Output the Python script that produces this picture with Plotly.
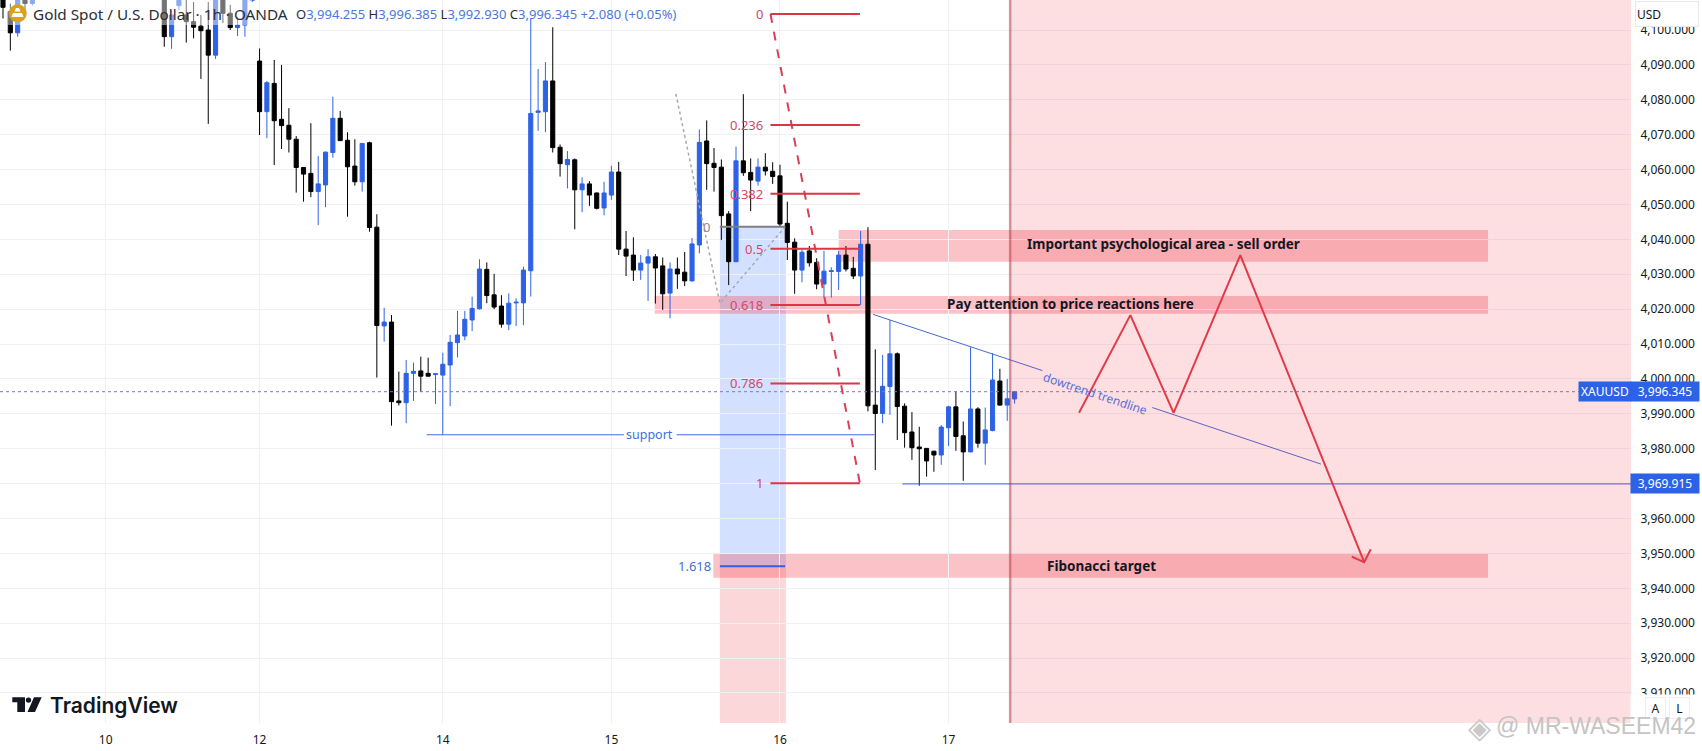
import plotly.graph_objects as go

# bar index, one bar per hour (bars 5-21 sit above the visible price range)
bar_index = [0, 1, 2, 3, 4] + list(range(22, 139))

opens = [4110, 4105.3, 4099.2, 4108.8, 4107.6,
         4108.6, 4098.1, 4107, 4104.3, 4102.4, 4101.1, 4100, 4092.8, 4109, 4104.8,
         4100.7, 4101.4, 4108.5, 4091.1, 4076.6, 4084.7, 4074.4, 4072.7, 4068.7, 4060.6,
         4058.9, 4053.7, 4055.6, 4064.9, 4074.7, 4068.4, 4061, 4056.5, 4067.7, 4043.5,
         4015.2, 4016.3, 3993.7, 3993.2, 4001.6, 4002.3, 4001.6, 4001.3, 4001.1, 4004,
         4010.4, 4012.3, 4016.9, 4020.1, 4031.4, 4024.1, 4020.9, 4015.7, 4021.8, 4021.8,
         4031, 4076.4, 4076.6, 4085.4, 4066.4, 4061.4, 4062.8, 4054.2, 4055.9, 4053.3,
         4049, 4052.7, 4059.3, 4037.2, 4035.5, 4031.2, 4033.2, 4035, 4032.4, 4024.6,
         4031.5, 4030.6, 4028.1, 4038.4, 4068.2, 4061.8, 4060.7, 4047.3, 4033.6, 4062.5,
         4059.2, 4056.7, 4060.7, 4059.5, 4058.2, 4044.6, 4039.2, 4031.2, 4036.7, 4033.4,
         4027.2, 4030.8, 4030.8, 4035.5, 4031.7, 4029.5, 4038.6, 3992.5, 3990.1, 3997.8,
         4007.2, 3992.2, 3984.8, 3980.5, 3980.1, 3979.3, 3978.2, 3986, 3992, 3983.7,
         3979.1, 3991.4, 3981.6, 3985.2, 3999.4, 3992.5, 3994.255]

closes = [4106.5, 4099.2, 4108.6, 4107.6, 4109,
          4098.1, 4104.3, 4110, 4102.4, 4100.8, 4099.8, 4092.8, 4110, 4104.8, 4100.7,
          4101.4, 4110, 4110, 4076.6, 4084.9, 4074, 4072.6, 4068.7, 4060.6, 4058.7,
          4053.7, 4055.9, 4065, 4074.7, 4068.3, 4060.8, 4056.5, 4067.5, 4043.4, 4015.3,
          4016.3, 3993.5, 3993.2, 4001.6, 4002.2, 4000.8, 4000.8, 4001.5, 4004.2, 4010.5,
          4012.6, 4017.1, 4020.2, 4031.5, 4023.9, 4020.6, 4015.7, 4021.7, 4022, 4031.2,
          4076.1, 4076.8, 4085.4, 4066.3, 4061.7, 4062.9, 4054.2, 4055.9, 4052.7, 4048.9,
          4053.3, 4059.3, 4037.2, 4035.2, 4031.2, 4033.2, 4035, 4031.8, 4024.4, 4031.5,
          4030.1, 4028.1, 4038.7, 4067.8, 4061.7, 4060.6, 4046.8, 4033.6, 4062.5, 4059.1,
          4057, 4060.7, 4059.6, 4058, 4044.4, 4039.1, 4031.2, 4036.3, 4033.3, 4027.2,
          4030.9, 4031, 4035.5, 4031.5, 4029.5, 4038.6, 3992.3, 3990.1, 3997.9, 4007.2,
          3992.1, 3984.6, 3980.3, 3980, 3976.5, 3978.2, 3986.2, 3992, 3983.5, 3979.1,
          3991.4, 3981.6, 3985.4, 3999.7, 3992.5, 3994.3, 3996.345]

highs = [4112, 4107.6, 4110, 4110, 4110,
         4110, 4105.7, 4112, 4108.6, 4108, 4104.3, 4108, 4112, 4111, 4107.2,
         4103.8, 4112, 4112, 4094.7, 4085.4, 4091.4, 4090, 4077.6, 4069.6, 4060.7,
         4073.3, 4063.9, 4065.2, 4080.9, 4076.8, 4070.7, 4068.7, 4067.6, 4068, 4047.2,
         4020.4, 4018.3, 4002.1, 4005.4, 4004.7, 4006.4, 4006.1, 4001.4, 4007.5, 4012.6,
         4019.5, 4019.5, 4023.6, 4034.3, 4033.4, 4030.1, 4024, 4024.5, 4023.1, 4032.2,
         4103.3, 4088.8, 4090.8, 4100.8, 4067.2, 4065.3, 4063.2, 4057.8, 4056.7, 4053.4,
         4056.5, 4061.1, 4062.2, 4042.4, 4040.6, 4035.5, 4037.2, 4035.8, 4034.8, 4033.4,
         4034.8, 4036.4, 4040.4, 4071.5, 4074.1, 4066.2, 4062.9, 4048.1, 4066.6, 4081.6,
         4063.2, 4063.2, 4064.7, 4062.1, 4061.4, 4050.8, 4040.3, 4037.2, 4038.1, 4034.6,
         4036.7, 4032, 4036.7, 4038.1, 4035, 4042.4, 4043.5, 4008.5, 4006.9, 4016.9,
         4007.6, 3993, 3990.5, 3986.3, 3980.2, 3979.4, 3986.8, 3992.3, 3996.4, 3987.8,
         4009.1, 3991.9, 3991.8, 4007.4, 4002.9, 4000, 3996.385]

lows = [4103.3, 4094.1, 4098.1, 4106, 4107,
        4095.2, 4094.6, 4105.7, 4096.4, 4097.6, 4086, 4073.1, 4091.7, 4102, 4100,
        4098.3, 4098.1, 4108, 4069.9, 4069, 4061.3, 4065.9, 4064.9, 4053.4, 4050.8,
        4052.1, 4044.1, 4049.2, 4063.4, 4068.2, 4046.5, 4055.4, 4053.7, 4042.2, 4000.4,
        4010.7, 3986.6, 3992.4, 3987.3, 3993.7, 3996.3, 4000.7, 3992.8, 3984, 3992.2,
        4006.2, 4011.1, 4013.7, 4019.9, 4021.7, 4020, 4014.7, 4014, 4015.2, 4015.4,
        4023.6, 4071.1, 4070.7, 4064.9, 4058, 4054.6, 4042.9, 4047.8, 4049.6, 4048.6,
        4046.9, 4051.3, 4035.5, 4029.5, 4028.1, 4028.4, 4022.4, 4021.6, 4019.8, 4017.4,
        4025.8, 4026.6, 4027.9, 4036, 4054.2, 4053.7, 4039.8, 4026.9, 4033.5, 4058.2,
        4048.1, 4055.4, 4058.3, 4055.9, 4043.6, 4034.1, 4024.4, 4027.7, 4032.2, 4025.7,
        4023.3, 4023.3, 4025.5, 4030.8, 4028.6, 4021.2, 3990.7, 3973.9, 3987.3, 3989.7,
        3982.5, 3980.3, 3976.8, 3969.4, 3972, 3973.4, 3975.4, 3980.8, 3979.4, 3970.8,
        3979, 3980.3, 3975.4, 3985, 3992.4, 3988, 3992.93]

day_ticks = [14, 35, 60, 83, 106, 129]
day_labels = ["10", "12", "14", "15", "16", "17"]
price_ticks = [3910 + 10 * n for n in range(20)]

last_price = 3996.345
low_line_price = 3969.915

fib_labels = ["0", "0.236", "0.382", "0.5", "0.618", "0.786", "1"]
fib_prices = [4104.6, 4072.8, 4053.1, 4037.3, 4021.2, 3998.7, 3970.1]
fib_start, fib_end = 104.7, 116.9

# fib extension, in bars and prices
ext_x = [91.8, 97.8, 106.7]
ext_y = [4081.7, 4021.7, 4043.6]
ext_zero = 4043.6
ext_target = 3946.3

support_price = 3984.0
support_x = [57.8, 84.7, None, 91.9, 118.9]

trend_x = [118.7, 141.8, None, 156.8, 179.8]
trend_y = [4018.5, 4002.4, None, 3991.8, 3975.6]

path_x = [146.8, 153.8, 159.7, 168.8, 185.7, None, 184.0, 185.7, 186.6]
path_y = [3990.3, 4018.3, 3990.3, 4035.5, 3947.5, None, 3949.1, 3947.5, 3951.2]

zone_left = [114.0, 88.9, 96.9]
zone_right = 202.6
zone_top = [4042.7, 4023.8, 3949.9]
zone_bottom = [4033.6, 4018.7, 3943.0]
zone_text = ["Important psychological area - sell order",
             "Pay attention to price reactions here",
             "Fibonacci target"]
zone_text_x = [158.3, 145.6, 149.8]
zone_text_y = [4038.6, 4021.4, 3946.4]

now_x = 137.4

WIDTH, HEIGHT = 1702, 751
PLOT_W, PLOT_H = 1631, 723
X_RANGE = [-0.41, 222.1]
Y_RANGE = [3901.4, 4108.6]

BLUE = "#2e62e6"
RED = "#de3c4b"
TEXT = "#131722"
UI_FONT = "Noto Sans"


def px(value):
    return value / PLOT_W


def py(value):
    return 1 - value / PLOT_H


fig = go.Figure()

fig.add_trace(go.Candlestick(
    x=bar_index, open=opens, high=highs, low=lows, close=closes,
    increasing=dict(line=dict(color=BLUE, width=1), fillcolor=BLUE),
    decreasing=dict(line=dict(color="#000000", width=1), fillcolor="#000000"),
    whiskerwidth=0, showlegend=False,
))


def add_line(x, y, color, width=1, dash="solid"):
    fig.add_trace(go.Scatter(x=x, y=y, mode="lines", showlegend=False, hoverinfo="skip",
                             line=dict(color=color, width=width, dash=dash)))


add_line(X_RANGE, [last_price, last_price], "#6f80b4", 1, "dot")
add_line([122.7, X_RANGE[1]], [low_line_price, low_line_price], "#3d5bd6", 1)
add_line(support_x, [support_price, support_price, None, support_price, support_price], "#3f6fe0", 1)
add_line(trend_x, trend_y, "#4568d8", 1)
add_line(ext_x, ext_y, "#a8a8a8", 1.5, "dot")
add_line([97.8, 106.7], [ext_zero, ext_zero], "#808080", 2)
add_line([97.8, 106.7], [ext_target, ext_target], "#2e62e6", 2)
add_line([fib_start, fib_end], [fib_prices[0], fib_prices[-1]], "#d8405a", 2, "dash")
for level in fib_prices:
    add_line([fib_start, fib_end], [level, level], "#dc3548", 2)
add_line(path_x, path_y, RED, 2)

shapes = []
# fib extension column, blue down to the target and pink below it
shapes.append(dict(type="rect", xref="x", yref="y", x0=97.8, x1=106.8, y0=ext_target, y1=ext_zero,
                   fillcolor="rgba(41,98,255,0.2)", line_width=0, layer="below"))
shapes.append(dict(type="rect", xref="x", yref="y", x0=97.8, x1=106.8, y0=Y_RANGE[0], y1=ext_target,
                   fillcolor="rgba(242,54,69,0.2)", line_width=0, layer="below"))
for left, top, bottom in zip(zone_left, zone_top, zone_bottom):
    shapes.append(dict(type="rect", xref="x", yref="y", x0=left, x1=zone_right, y0=bottom, y1=top,
                       fillcolor="rgba(242,54,69,0.3)", line_width=0, layer="below"))
shapes.append(dict(type="rect", xref="x", yref="y", x0=now_x, x1=X_RANGE[1], y0=Y_RANGE[0], y1=Y_RANGE[1],
                   fillcolor="rgba(242,54,69,0.16)", line_width=0, layer="above"))
shapes.append(dict(type="line", xref="x", yref="y", x0=now_x, x1=now_x, y0=Y_RANGE[0], y1=Y_RANGE[1],
                   line=dict(color="rgba(170,50,70,0.5)", width=2.5), layer="above"))
# legend wash over the candles
shapes.append(dict(type="rect", xref="paper", yref="paper", x0=px(8), x1=px(252), y0=py(25), y1=py(0),
                   fillcolor="rgba(255,255,255,0.45)", line_width=0, layer="above"))
# gold icon
shapes.append(dict(type="circle", xref="paper", yref="paper", x0=px(8.7), x1=px(26.7), y0=py(22.3), y1=py(4.3),
                   fillcolor="#d9a11c", line_width=0, layer="above"))
shapes.append(dict(type="path", xref="paper", yref="paper", layer="above", line_width=0, fillcolor="#ffffff",
                   path=f"M {px(14.5)} {py(11.5)} L {px(20.5)} {py(11.5)} L {px(19)} {py(8)} L {px(16)} {py(8)} Z "
                        f"M {px(11.5)} {py(17)} L {px(23.5)} {py(17)} L {px(22)} {py(13)} L {px(13)} {py(13)} Z"))
# TradingView mark
shapes.append(dict(type="path", xref="paper", yref="paper", layer="above", line_width=0, fillcolor="#131722",
                   path=f"M {px(12.3)} {py(697.3)} L {px(25)} {py(697.3)} L {px(25)} {py(712)} L {px(17.3)} {py(712)} "
                        f"L {px(17.3)} {py(702.3)} L {px(12.3)} {py(702.3)} Z "
                        f"M {px(34)} {py(697.3)} L {px(41.7)} {py(697.3)} L {px(35)} {py(712)} L {px(27.5)} {py(712)} Z"))
shapes.append(dict(type="circle", xref="paper", yref="paper", layer="above", line_width=0, fillcolor="#131722",
                   x0=px(25.8), x1=px(31.2), y0=py(702.8), y1=py(697.4)))

annotations = []


def note(text, x, y, xref="x", yref="y", color=TEXT, size=12, xanchor="center", yanchor="middle", **kw):
    family = kw.pop("family", UI_FONT)
    weight = kw.pop("weight", "normal")
    annotations.append(dict(text=text, x=x, y=y, xref=xref, yref=yref, showarrow=False,
                            xanchor=xanchor, yanchor=yanchor,
                            font=dict(family=family, size=size, color=color, weight=weight), **kw))


for label, level in zip(fib_labels, fib_prices):
    note(label, 103.7, level, color="#d4486a", size=13, xanchor="right", xshift=2)
note("0", 96.7, ext_zero, color="#8a8a8a", size=13, xanchor="right")
note("1.618", 96.9, ext_target, color="#3f6fe0", size=13, xanchor="right")
note("support", 88.2, support_price, color="#3f6fe0", size=12.5)
note("dowtrend trendline", 149.0, 3995.9, color="#5a6ddb", size=12, textangle=18.5)
for text, x, y in zip(zone_text, zone_text_x, zone_text_y):
    note(text, x, y, color=TEXT, size=13.5, weight="bold")

# chart legend
note("Gold Spot / U.S. Dollar · 1h · OANDA", px(31), py(14), "paper", "paper", color="#2a2e39", size=15.3, xanchor="left")
val = '<span style="color:#4a78d8">%s</span>'
ohlc = ("O" + val % "3,994.255" + " H" + val % "3,996.385" + " L" + val % "3,992.930"
        + " C" + val % "3,996.345" + " " + val % "+2.080 (+0.05%)")
note(ohlc, px(294), py(14), "paper", "paper", color="#2a2e39", size=13, xanchor="left")

note("TradingView", px(48), py(705), "paper", "paper", color="#131722", size=21, xanchor="left",
     family="Inter", weight=600)

# price scale extras
note("USD", px(1667), py(14), "paper", "paper", size=12, width=60, height=22, align="left",
     bgcolor="#ffffff", bordercolor="#e6e8ee", borderwidth=1)
note("XAUUSD", px(1605), last_price, "paper", "y", color="#ffffff", size=12, width=50, height=17, bgcolor=BLUE)
note("3,996.345", px(1665), last_price, "paper", "y", color="#ffffff", size=12, width=66, height=17, bgcolor=BLUE)
note("3,969.915", px(1665), low_line_price, "paper", "y", color="#ffffff", size=12, width=66, height=17, bgcolor=BLUE)
note(" ", px(1667), py(709), "paper", "paper", width=70, height=27, bgcolor="#ffffff")
note("A", px(1655.5), py(708), "paper", "paper", size=12, width=17, height=18,
     bgcolor="#ffffff", bordercolor="#eceef2", borderwidth=1)
note("L", px(1679.5), py(708), "paper", "paper", size=12, width=17, height=18,
     bgcolor="#ffffff", bordercolor="#eceef2", borderwidth=1)

# watermark
note("◈", px(1479), py(727), "paper", "paper", color="#c9c9c9", size=30, family="DejaVu Sans")
note("@ MR-WASEEM42", px(1596), py(726), "paper", "paper", color="#c4c4c4", size=23, family="Liberation Sans")

fig.update_layout(
    width=WIDTH, height=HEIGHT,
    margin=dict(l=0, r=WIDTH - PLOT_W, t=0, b=HEIGHT - PLOT_H, pad=0),
    paper_bgcolor="#ffffff", plot_bgcolor="#ffffff",
    font=dict(family=UI_FONT, size=12, color=TEXT),
    showlegend=False, boxgap=0.2,
    shapes=shapes, annotations=annotations,
    xaxis=dict(range=X_RANGE, rangeslider=dict(visible=False), tickvals=day_ticks, ticktext=day_labels,
               showgrid=True, gridcolor="#f0f1f5", zeroline=False, showline=False, ticks="outside",
               ticklen=6, tickcolor="#ffffff", tickfont=dict(size=12, color=TEXT)),
    yaxis=dict(range=Y_RANGE, side="right", tickvals=price_ticks, tickformat=",.3f",
               showgrid=True, gridcolor="#f0f1f5", zeroline=False, showline=False, ticks="outside",
               ticklen=6, tickcolor="#ffffff", tickfont=dict(size=12, color=TEXT)),
)

# the page's default body margin would push the chart 8px off the window
fig.write_html("out.html", config=dict(displayModeBar=False),
               post_script="document.body.style.margin='0';")
